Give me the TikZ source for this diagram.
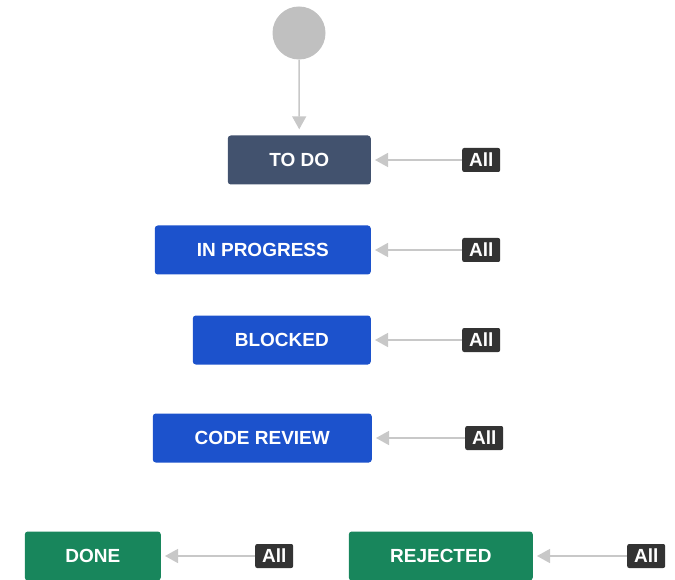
\documentclass[tikz,border=0pt]{standalone}
\usepackage{fontspec}
\setmainfont{Liberation Sans}
\usepackage{tikz}
\definecolor{todoslate}{RGB}{66, 82, 110}
\definecolor{progressblue}{RGB}{28, 82, 204}
\definecolor{donegreen}{RGB}{24, 134, 92}
\definecolor{taggray}{RGB}{51, 51, 51}
\definecolor{linegray}{RGB}{200, 200, 200}
\definecolor{startgray}{RGB}{192, 192, 192}
\usetikzlibrary{arrows.meta, positioning}

\begin{document}
\begin{tikzpicture}[
    x=1pt, y=-1pt,
    status/.style={rectangle, rounded corners=3pt, minimum height=49pt, inner sep=0pt,
                   text=white, font=\fontsize{19}{19}\selectfont\bfseries},
    tag/.style={rectangle, rounded corners=2pt, fill=taggray, minimum height=24pt, minimum width=38pt,
                inner sep=0pt, text=white, font=\fontsize{19}{19}\selectfont\bfseries},
    flow/.style={draw=linegray, line width=1.5pt, -{Triangle[length=13pt, width=14pt]}, shorten >=4pt}
]
    \useasboundingbox (0,0) rectangle (675,580);

    % Start state
    \node[circle, fill=startgray, minimum size=53pt, inner sep=0pt] (start) at (299,33) {};

    % Statuses
    \node[status, fill=todoslate, minimum width=143pt, anchor=east] (todo) at (371,160) {TO DO};
    \node[status, fill=progressblue, minimum width=216pt, anchor=east] (inprogress) at (371,250) {IN PROGRESS};
    \node[status, fill=progressblue, minimum width=178pt, anchor=east] (blocked) at (371,340) {BLOCKED};
    \node[status, fill=progressblue, minimum width=219pt, anchor=east] (codereview) at (372,438) {CODE REVIEW};
    \node[status, fill=donegreen, minimum width=136pt, anchor=east] (done) at (161,556) {DONE};
    \node[status, fill=donegreen, minimum width=184pt, anchor=east] (rejected) at (533,556) {REJECTED};

    % Global transitions
    \node[tag, right=91pt of todo] (alltodo) {All};
    \node[tag, right=91pt of inprogress] (allprogress) {All};
    \node[tag, right=91pt of blocked] (allblocked) {All};
    \node[tag, right=93pt of codereview] (allreview) {All};
    \node[tag, right=94pt of done] (alldone) {All};
    \node[tag, right=94pt of rejected] (allrejected) {All};

    \draw[flow, shorten >=6pt] (start) -- (todo);
    \draw[flow] (alltodo) -- (todo);
    \draw[flow] (allprogress) -- (inprogress);
    \draw[flow] (allblocked) -- (blocked);
    \draw[flow] (allreview) -- (codereview);
    \draw[flow] (alldone) -- (done);
    \draw[flow] (allrejected) -- (rejected);
\end{tikzpicture}
\end{document}
